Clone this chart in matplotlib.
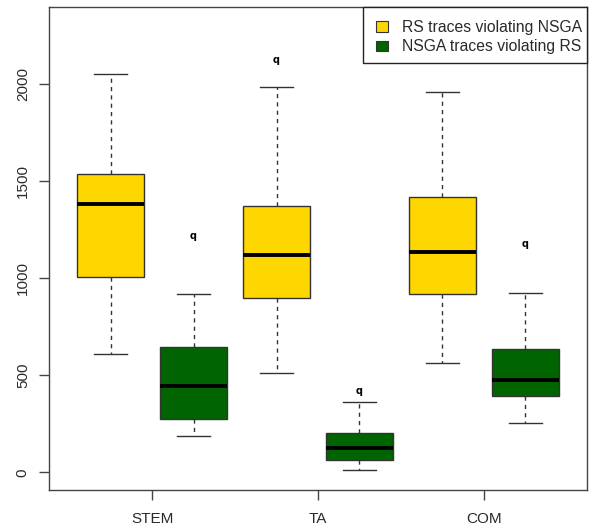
import matplotlib
matplotlib.use("Agg")
import matplotlib.pyplot as plt
from matplotlib.patches import Patch, Rectangle

plt.rcParams['font.family'] = ['Liberation Sans', 'DejaVu Sans']

# ---- data ----
groups = ["STEM", "TA", "COM"]
series_names = ["RS traces violating NSGA", "NSGA traces violating RS"]
series_colors = ["#FFD700", "#006400"]

# order: STEM-RS, STEM-NSGA, TA-RS, TA-NSGA, COM-RS, COM-NSGA
whisker_low = [608, 188, 511, 12, 564, 252]
q1 = [1007, 276, 897, 63, 917, 393]
median = [1383, 446, 1119, 127, 1133, 474]
q3 = [1538, 645, 1370, 204, 1418, 636]
whisker_high = [2052, 917, 1986, 362, 1957, 922]
outliers = [[], [1217], [2123], [420], [], [1176]]

yticks = [0, 500, 1000, 1500, 2000]

# ---- figure ----
W, H = 592, 525
fig = plt.figure(figsize=(W / 100, H / 100), dpi=100)
L, R, T, B = 49.3, 586.7, 6.7, 490.0
ax = fig.add_axes([L / W, 1 - B / H, (R - L) / W, (B - T) / H])

positions = list(range(1, len(median) + 1))
stats = []
for i in range(len(median)):
    stats.append(dict(whislo=whisker_low[i], q1=q1[i], med=median[i],
                      q3=q3[i], whishi=whisker_high[i], fliers=[]))

edge = "#333333"
bp = ax.bxp(stats, positions=positions, widths=0.8, patch_artist=True,
            showfliers=False,
            boxprops=dict(edgecolor=edge, linewidth=1.0),
            medianprops=dict(color="black", linewidth=2.8, solid_capstyle="butt"),
            whiskerprops=dict(color=edge, linewidth=1.0, linestyle=(0, (3, 3))),
            capprops=dict(color=edge, linewidth=1.0), capwidths=0.4)
for i, box in enumerate(bp["boxes"]):
    box.set_facecolor(series_colors[i % 2])

for p, outs in zip(positions, outliers):
    for v in outs:
        ax.text(p, v, "q", ha="center", va="center", fontsize=7,
                fontweight="bold", color="black", family="DejaVu Sans")

ax.set_xlim(0.26, 6.74)
ax.set_ylim(-91, 2398)

ax.set_yticks(yticks)
ax.set_yticklabels([str(v) for v in yticks], rotation=90, va="center")
ax.set_xticks([1.5, 3.5, 5.5])
ax.set_xticklabels(groups)
ax.tick_params(axis="both", length=7, width=1, color="#444444",
               labelsize=11, labelcolor="#2a2a2a", pad=7)
ax.tick_params(axis="x", pad=9)
for s in ax.spines.values():
    s.set_color("#444444")
    s.set_linewidth(1.0)

# legend frame
lx0 = (363 - L) / (R - L)
lh = (63.3 - T) / (B - T)
ax.add_patch(Rectangle((lx0, 1 - lh), 1 - lx0, lh, transform=ax.transAxes,
                       facecolor="white", edgecolor="#222222", linewidth=1.0,
                       zorder=5, clip_on=False))
handles = [Patch(facecolor=c, edgecolor="#333333", linewidth=0.8)
           for c in series_colors]
leg = ax.legend(handles, series_names, loc="upper left",
                bbox_to_anchor=(376 / W, 1 - 20 / H),
                bbox_transform=fig.transFigure, frameon=False,
                fontsize=11.3, borderpad=0, borderaxespad=0,
                handlelength=0.75, handleheight=0.65, handletextpad=0.9,
                labelspacing=0.28)
leg.set_zorder(6)
for t in leg.get_texts():
    t.set_color("#2a2a2a")

fig.savefig("out.png", dpi=100)
